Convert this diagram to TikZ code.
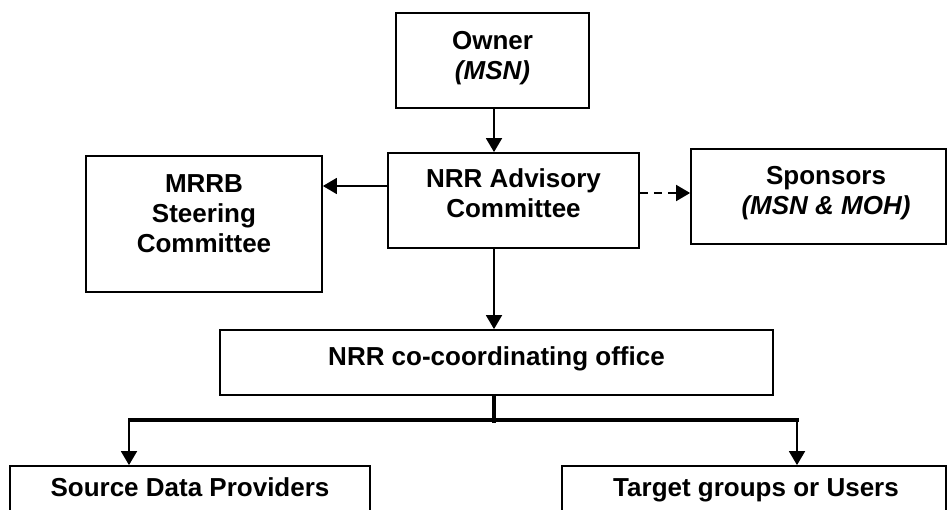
\documentclass[tikz,border=0pt]{standalone}
\usepackage{fontspec}
\setmainfont{Liberation Sans}
\usetikzlibrary{arrows.meta}
\begin{document}
\begin{tikzpicture}[x=1pt,y=-1pt,
  box/.style={draw=black,line width=1.8pt,inner sep=0pt,rectangle},
  lbl/.style={inner sep=0pt,align=center,font=\fontsize{26}{30}\selectfont\bfseries},
  arr/.style={line width=1.8pt,-{Triangle[length=14pt,width=16pt]}},
  thick line/.style={line width=4pt}]
\useasboundingbox (0,0) rectangle (947,510);
\clip (0,0) rectangle (947,510);
% boxes
\node[box,minimum width=193pt,minimum height=95pt] (owner) at (492.5,60.5) {};
\node[box,minimum width=251pt,minimum height=95pt] (adv) at (513.5,200.5) {};
\node[box,minimum width=236pt,minimum height=136pt] (mrrb) at (204,224) {};
\node[box,minimum width=255pt,minimum height=95pt] (spons) at (818.5,196.5) {};
\node[box,minimum width=553pt,minimum height=65pt] (office) at (496.5,362.5) {};
\node[box,minimum width=360pt,minimum height=64pt] (src) at (190,498) {};
\node[box,minimum width=384pt,minimum height=64pt] (tgt) at (754,498) {};
% texts
\node[lbl] (ownert) at (492.5,58.5) {Owner\\\itshape(MSN)};
\node[lbl] (advt) at (513.5,193.5) {NRR Advisory\\Committee};
\node[lbl] (mrrbt) at (204,213.5) {MRRB\\Steering\\Committee};
\node[lbl] (sponst) at (826,193.3) {Sponsors\\\itshape(MSN \& MOH)};
\node[lbl,anchor=base] (officet) at (496.5,365.5) {NRR co-coordinating office};
\node[lbl,anchor=base] (srct) at (190,496) {Source Data Providers};
\node[lbl,anchor=base] (tgtt) at (756,496) {Target groups or Users};
% helper coordinates
\coordinate (xa) at (494,0);
\coordinate (yl) at (0,186);
\coordinate (yr) at (0,193);
\coordinate (busl) at (129,420);
\coordinate (busr) at (797,420);
\coordinate (stub) at (494,423);
% connectors
\draw[arr] (owner.south -| xa) -- (adv.north -| xa);
\draw[arr] (adv.west |- yl) -- (mrrb.east |- yl);
\draw[arr,dash pattern=on 8pt off 6pt] (adv.east |- yr) -- (spons.west |- yr);
\draw[arr] (adv.south -| xa) -- (office.north -| xa);
\draw[line width=3.5pt] (office.south -| xa) -- (stub);
\draw[thick line] ([xshift=-1pt]busl) -- ([xshift=2pt]busr);
\draw[arr] (busl) -- (src.north -| busl);
\draw[arr] (busr) -- (tgt.north -| busr);
\end{tikzpicture}
\end{document}
